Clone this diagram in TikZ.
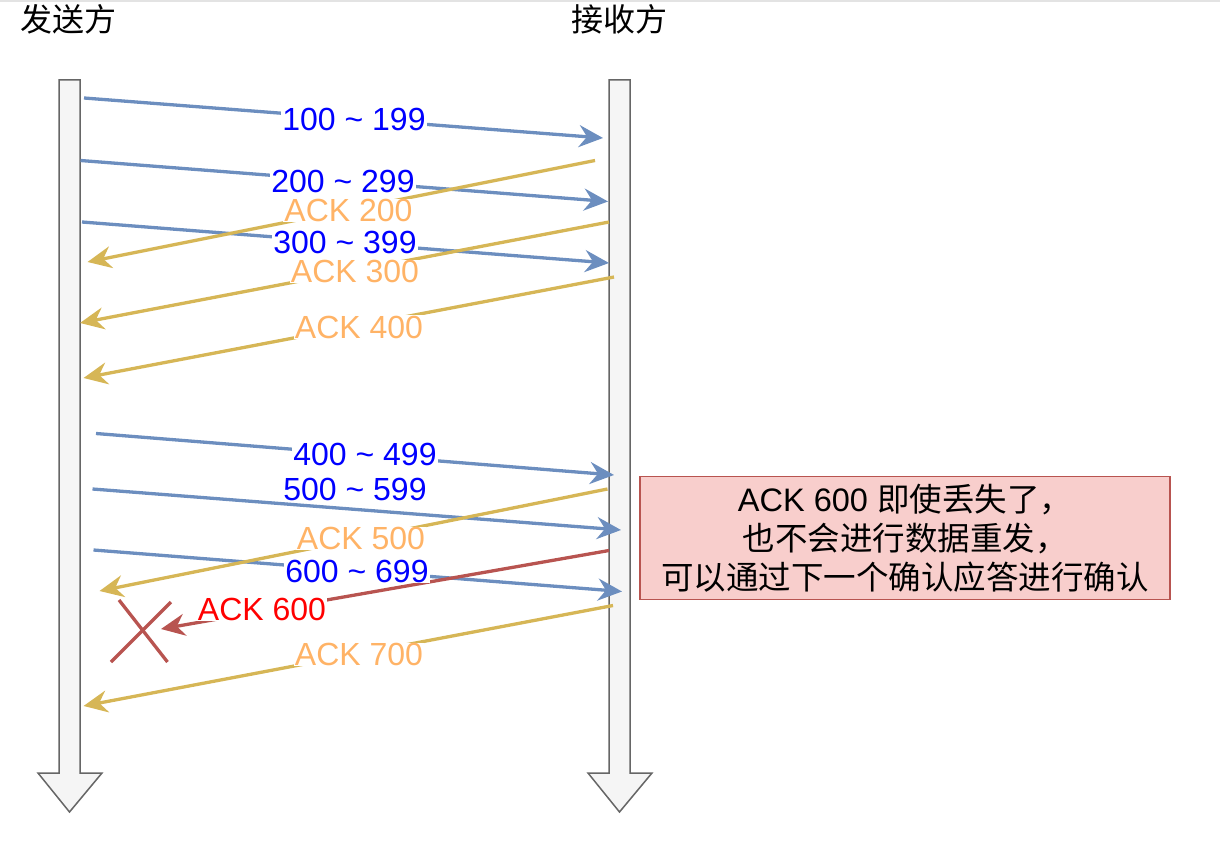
\documentclass[tikz,border=0pt]{standalone}
\usepackage{fontspec}
\setmainfont{Liberation Sans}
\newfontfamily\cjk{Noto Sans CJK SC}
\usetikzlibrary{arrows.meta}
\definecolor{bl}{HTML}{6C8EBF}
\definecolor{gd}{HTML}{D6B656}
\definecolor{rd}{HTML}{B85450}
\definecolor{pk}{HTML}{F8CECC}
\definecolor{og}{HTML}{FFB366}
\definecolor{shaftfill}{HTML}{F5F5F5}
\definecolor{shaftline}{HTML}{666666}
\definecolor{topline}{HTML}{E3E3E3}
\begin{document}
\begin{tikzpicture}[x=1pt,y=-1pt,
  msg/.style={line width=3.3pt,-{Stealth[length=24pt,width=22pt,inset=8pt]}},
  seg/.style={msg,color=bl},
  ack/.style={msg,color=gd},
  lost/.style={msg,color=rd},
  lbl/.style={fill=white,inner xsep=1pt,inner ysep=0.5pt,font=\fontsize{32}{38}\selectfont},
  seglbl/.style={lbl,text={rgb,255:red,0;green,0;blue,255}},
  acklbl/.style={lbl,text=og},
  lostlbl/.style={lbl,text={rgb,255:red,255;green,0;blue,0}},
  life/.style={draw=shaftline,fill=shaftfill,line width=1.5pt,line join=miter},
  title/.style={font=\cjk\fontsize{32}{38}\selectfont,inner sep=0pt},
  notebox/.style={draw=rd,fill=pk,line width=1.2pt,minimum width=530pt,minimum height=123pt,align=center,
    font=\fontsize{32.5}{39}\selectfont},
  cross/.style={draw=rd,line width=3.3pt}
]
\useasboundingbox (0,0) rectangle (1220,850);
\fill[topline] (0,0) rectangle (1220,2.5);

% titles
\node[title] (tsend) at (68.5,19) {发送方};
\node[title] (trecv) at (619,19) {接收方};

% lifelines
\draw[life] (59,80) -- (80,80) -- (80,773) -- (102,773) -- (69.5,812) -- (38,773) -- (59,773) -- cycle;
\draw[life] (609,80) -- (630,80) -- (630,773) -- (652,773) -- (619.5,812) -- (588,773) -- (609,773) -- cycle;

% end points
\coordinate (s1) at (84,98);    \coordinate (e1) at (603,138);
\coordinate (s2) at (80.5,160.5); \coordinate (e2) at (608,201.5);
\coordinate (s3) at (82,222);   \coordinate (e3) at (609,263);
\coordinate (s4) at (96,433.5); \coordinate (e4) at (614,475);
\coordinate (s5) at (92.5,489); \coordinate (e5) at (621,530);
\coordinate (s6) at (93.5,550); \coordinate (e6) at (622,591.5);
\coordinate (a2s) at (595,160.5); \coordinate (a2e) at (87.5,262);
\coordinate (a3s) at (609,222);   \coordinate (a3e) at (80,323);
\coordinate (a4s) at (614,277);   \coordinate (a4e) at (83.5,378);
\coordinate (a5s) at (607.5,489); \coordinate (a5e) at (99.5,591);
\coordinate (a6s) at (609,550.5); \coordinate (a6e) at (161,629);
\coordinate (a7s) at (613,605.5); \coordinate (a7e) at (83.5,706);
\coordinate (x1a) at (119,600); \coordinate (x1b) at (167.5,662);
\coordinate (x2a) at (171,602); \coordinate (x2b) at (111,662);

% connectors
\draw[seg] (s1) -- (e1);
\draw[seg] (s2) -- (e2);
\draw[seg] (s3) -- (e3);
\draw[ack] (a2s) -- (a2e);
\draw[ack] (a3s) -- (a3e);
\draw[ack] (a4s) -- (a4e);
\draw[seg] (s4) -- (e4);
\draw[seg] (s5) -- (e5);
\draw[seg] (s6) -- (e6);
\draw[ack] (a5s) -- (a5e);
\draw[lost] (a6s) -- (a6e);
\draw[ack] (a7s) -- (a7e);
\draw[cross] (x1a) -- (x1b);
\draw[cross] (x2a) -- (x2b);

% labels
\node[seglbl] (l1) at (354,119) {100 \textasciitilde{} 199};
\node[seglbl] (l2) at (343,181.5) {200 \textasciitilde{} 299};
\node[acklbl] (k2) at (348.5,210.5) {ACK 200};
\node[seglbl] (l3) at (345,242) {300 \textasciitilde{} 399};
\node[acklbl] (k3) at (355,271.5) {ACK 300};
\node[acklbl] (k4) at (359,327) {ACK 400};
\node[seglbl] (l4) at (365,454.5) {400 \textasciitilde{} 499};
\node[seglbl] (l5) at (355,489.5) {500 \textasciitilde{} 599};
\node[acklbl] (k5) at (361,538.5) {ACK 500};
\node[seglbl] (l6) at (357,571) {600 \textasciitilde{} 699};
\node[lostlbl] (k6) at (262,609.5) {ACK 600};
\node[acklbl] (k7) at (359,654.5) {ACK 700};

% note
\node[notebox] (note) at (905,538) {ACK 600 {\cjk 即使丢失了，}\\{\cjk 也不会进行数据重发，}\\{\cjk 可以通过下一个确认应答进行确认}};
\end{tikzpicture}
\end{document}
